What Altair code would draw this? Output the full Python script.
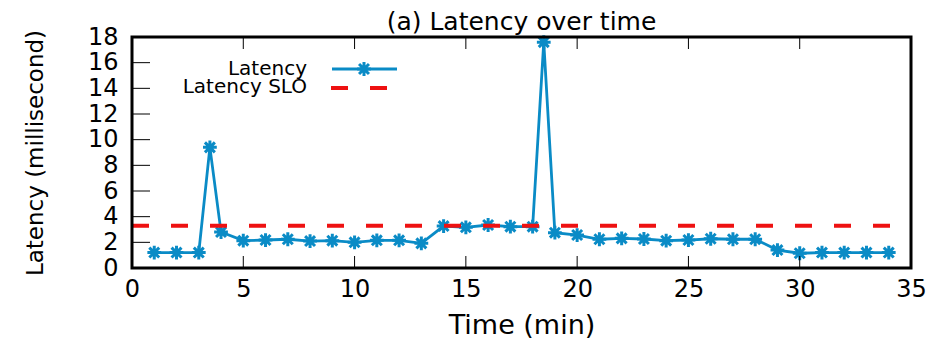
import altair as alt
import pandas as pd

# ---- data ----
time_min = [1, 2, 3, 3.5, 4, 5, 6, 7, 8, 9, 10, 11, 12, 13, 14, 15, 16, 17, 18, 18.5,
            19, 20, 21, 22, 23, 24, 25, 26, 27, 28, 29, 30, 31, 32, 33, 34]
latency_ms = [1.2, 1.2, 1.2, 9.4, 2.8,
              2.13, 2.18, 2.24, 2.1, 2.13, 2.0, 2.16, 2.16, 1.92,
              3.27, 3.17, 3.35, 3.22, 3.22,
              17.6,
              2.75, 2.57, 2.24, 2.31, 2.26, 2.13, 2.18, 2.28, 2.24, 2.24,
              1.4, 1.15, 1.2, 1.2, 1.2, 1.2]
slo_ms = [3.3]
x_tick_values = [0, 5, 10, 15, 20, 25, 30, 35]
y_tick_values = [0, 2, 4, 6, 8, 10, 12, 14, 16, 18]
legend_labels = ["Latency", "Latency SLO"]

BLUE = "#0a8bc6"
RED = "#ee1111"
FONT = "DejaVu Sans"
W, H = 779, 231
ASTERISK = "M-1,0L1,0M0,-1L0,1M-0.72,-0.72L0.72,0.72M-0.72,0.72L0.72,-0.72"

df = pd.DataFrame({"t": time_min, "lat": latency_ms})
slo_df = pd.DataFrame({"slo": slo_ms, "x0": [x_tick_values[0]], "x1": [x_tick_values[-1]]})
xt = pd.DataFrame({"v": x_tick_values})
yt = pd.DataFrame({"v": y_tick_values})
leg1 = pd.DataFrame({"label": [legend_labels[0]]})
leg2 = pd.DataFrame({"label": [legend_labels[1]]})

xscale = alt.Scale(domain=[0, 35], nice=False, zero=False)
yscale = alt.Scale(domain=[0, 18], nice=False, zero=False)

x_axis = alt.Axis(values=x_tick_values, ticks=False, domain=False, grid=False,
                  labelOverlap=False, labelFlush=False,
                  labelFont=FONT, labelFontSize=24, labelColor="black", labelPadding=9,
                  title="Time (min)", titleFont=FONT, titleFontSize=27,
                  titleFontWeight="normal", titleColor="black", titlePadding=11)
y_axis = alt.Axis(values=y_tick_values, ticks=False, domain=False, grid=False,
                  labelOverlap=False, labelFlush=False,
                  labelFont=FONT, labelFontSize=24, labelColor="black", labelPadding=14,
                  title="Latency (millisecond)", titleFont=FONT, titleFontSize=23,
                  titleFontWeight="normal", titleColor="black", titlePadding=40)


def X(field):
    return alt.X(field, scale=xscale, axis=x_axis)


def Y(field):
    return alt.Y(field, scale=yscale, axis=y_axis)


line = alt.Chart(df).mark_line(color=BLUE, strokeWidth=2.8).encode(x=X("t:Q"), y=Y("lat:Q"))
pts = alt.Chart(df).mark_point(shape=ASTERISK, size=190, filled=False, color=BLUE,
                               strokeWidth=3, opacity=1).encode(x=X("t:Q"), y=Y("lat:Q"))

slo = alt.Chart(slo_df).mark_rule(color=RED, strokeWidth=4, strokeDash=[17, 22]).encode(
    x=X("x0:Q"), x2="x1:Q", y=Y("slo:Q"))

xt_bottom = alt.Chart(xt).mark_rule(color="black", strokeWidth=1).encode(
    x=X("v:Q"), y=alt.value(H - 12), y2=alt.value(H))
xt_top = alt.Chart(xt).mark_rule(color="black", strokeWidth=1).encode(
    x=X("v:Q"), y=alt.value(0), y2=alt.value(12))
yt_left = alt.Chart(yt).mark_rule(color="black", strokeWidth=1).encode(
    y=Y("v:Q"), x=alt.value(0), x2=alt.value(18))

frame = alt.Chart(leg1).mark_rect(fill="transparent", stroke="black", strokeWidth=3).encode(
    x=alt.value(0), x2=alt.value(W), y=alt.value(0), y2=alt.value(H))

# legend (drawn manually: label on the left, sample on the right)
lg_text1 = alt.Chart(leg1).mark_text(align="right", baseline="alphabetic", font=FONT,
                                     fontSize=20, color="black").encode(
    text="label:N", x=alt.value(175), y=alt.value(38))
lg_text2 = alt.Chart(leg2).mark_text(align="right", baseline="alphabetic", font=FONT,
                                     fontSize=20, color="black").encode(
    text="label:N", x=alt.value(175), y=alt.value(56))
lg_line = alt.Chart(leg1).mark_rule(color=BLUE, strokeWidth=2.8).encode(
    x=alt.value(200), x2=alt.value(265), y=alt.value(32))
lg_pt = alt.Chart(leg1).mark_point(shape=ASTERISK, size=190, filled=False, color=BLUE,
                                   strokeWidth=3, opacity=1).encode(
    x=alt.value(232), y=alt.value(32))
lg_dash = alt.Chart(leg2).mark_rule(color=RED, strokeWidth=4, strokeDash=[17, 22]).encode(
    x=alt.value(199), x2=alt.value(257), y=alt.value(51))

chart = alt.layer(
    line, pts, slo, xt_bottom, xt_top, yt_left,
    lg_text1, lg_text2, lg_line, lg_pt, lg_dash, frame
).properties(
    width=W, height=H,
    title=alt.Title("(a) Latency over time", font=FONT, fontSize=25,
                    fontWeight="normal", color="black", anchor="middle",
                    frame="group", offset=6, dy=16),
    autosize=alt.AutoSizeParams(type="none"),
    padding={"left": 124, "top": 29, "right": 20, "bottom": 70},
).configure_view(stroke="black", strokeWidth=3).configure(background="white")

chart.save("out.html", embed_options={"renderer": "svg", "actions": False})
